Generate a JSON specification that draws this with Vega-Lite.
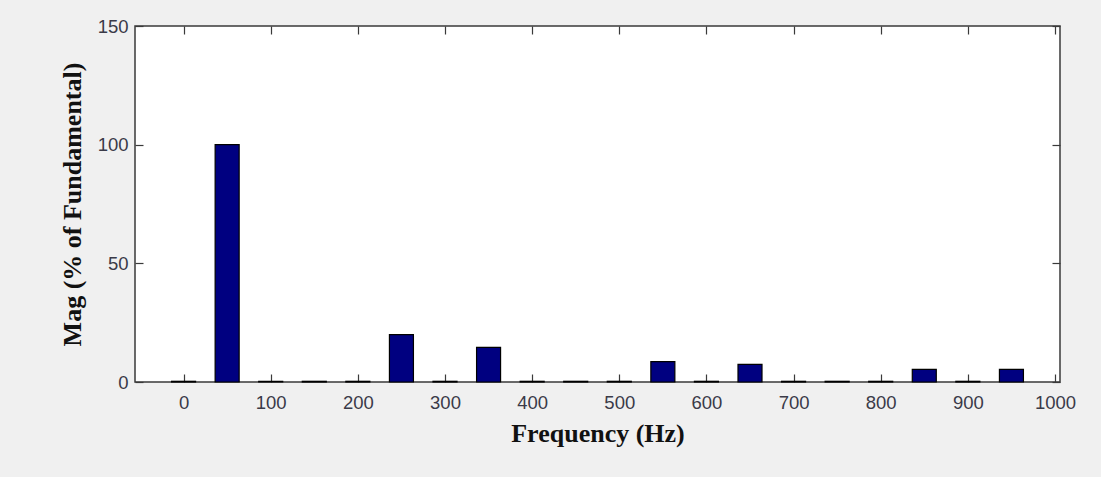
{
  "$schema": "https://vega.github.io/schema/vega-lite/v6.json",
  "width": 925,
  "height": 356,
  "autosize": {"type": "none"},
  "padding": {"left": 135, "top": 26, "right": 41, "bottom": 95},
  "background": "#f0f0f0",
  "config": {
    "view": {"fill": "white", "stroke": "#3a3a3a", "strokeWidth": 1.5},
    "axis": {
      "domain": false,
      "grid": false,
      "tickColor": "#3a3a3a",
      "tickWidth": 1.2,
      "tickSize": -8,
      "labelFont": "Liberation Sans",
      "labelFontSize": 18.5,
      "labelColor": "#3a3a48",
      "titleFont": "Liberation Serif",
      "titleFontSize": 26,
      "titleFontWeight": "bold",
      "titleColor": "#111111"
    }
  },
  "data": {
    "values": [
      {"freq": 0, "mag": 0.3},
      {"freq": 50, "mag": 100},
      {"freq": 100, "mag": 0.3},
      {"freq": 150, "mag": 0.3},
      {"freq": 200, "mag": 0.3},
      {"freq": 250, "mag": 20},
      {"freq": 300, "mag": 0.3},
      {"freq": 350, "mag": 14.6},
      {"freq": 400, "mag": 0.3},
      {"freq": 450, "mag": 0.3},
      {"freq": 500, "mag": 0.3},
      {"freq": 550, "mag": 8.6},
      {"freq": 600, "mag": 0.3},
      {"freq": 650, "mag": 7.4},
      {"freq": 700, "mag": 0.3},
      {"freq": 750, "mag": 0.3},
      {"freq": 800, "mag": 0.3},
      {"freq": 850, "mag": 5.3},
      {"freq": 900, "mag": 0.3},
      {"freq": 950, "mag": 5.3}
    ]
  },
  "layer": [
    {
      "mark": {"type": "bar", "size": 24, "fill": "#000080", "stroke": "#000000", "strokeWidth": 1.2},
      "encoding": {
        "x": {
          "field": "freq",
          "type": "quantitative",
          "scale": {"domain": [-50, 1000], "nice": false, "zero": false},
          "axis": {
            "orient": "bottom",
            "values": [0, 100, 200, 300, 400, 500, 600, 700, 800, 900, 1000],
            "format": "d",
            "labelPadding": 19,
            "title": "Frequency (Hz)",
            "titlePadding": 9
          }
        },
        "y": {
          "field": "mag",
          "type": "quantitative",
          "scale": {"domain": [0, 150], "nice": false},
          "axis": {
            "orient": "left",
            "values": [0, 50, 100, 150],
            "labelPadding": 15,
            "title": "Mag (% of Fundamental)",
            "titlePadding": 12
          }
        }
      }
    },
    {
      "mark": {"type": "point", "opacity": 0},
      "encoding": {
        "x": {
          "field": "freq",
          "type": "quantitative",
          "axis": {
            "orient": "top",
            "values": [0, 100, 200, 300, 400, 500, 600, 700, 800, 900, 1000],
            "labels": false,
            "title": null
          }
        },
        "y": {
          "field": "mag",
          "type": "quantitative",
          "axis": {
            "orient": "right",
            "values": [0, 50, 100, 150],
            "labels": false,
            "title": null
          }
        }
      }
    }
  ],
  "resolve": {"axis": {"x": "independent", "y": "independent"}}
}
